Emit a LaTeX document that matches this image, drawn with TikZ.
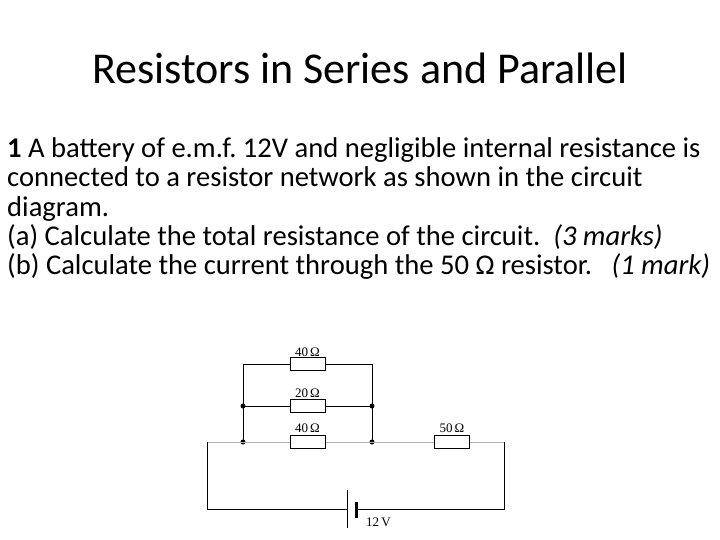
\documentclass[tikz,border=0pt]{standalone}
\usepackage{fontspec}
\setmainfont{Carlito}
\newfontfamily\circfont{Liberation Serif}
\frenchspacing
\begin{document}
\begin{tikzpicture}[x=1pt,y=-1pt,
  wire/.style={line width=0.9pt},
  res/.style={draw,line width=0.9pt,fill=white,minimum width=35pt,minimum height=13pt,inner sep=0pt},
  rlab/.style={font=\circfont\fontsize{13}{13}\selectfont,inner sep=0pt},
  dot/.style={circle,fill=black,inner sep=0pt,minimum size=5pt},
  body/.style={anchor=base west,font=\fontsize{28.6}{28.6}\selectfont,inner sep=0pt}]
\useasboundingbox (0,0) rectangle (720,540);
\node[font=\fontsize{44}{44}\selectfont] (title) at (360,68) {Resistors in Series and Parallel};
\node[body] (l1) at (7,158) {\textbf{1} A battery of e.m.f. 12V and negligible internal resistance is};
\node[body] (l2) at (7,187) {connected to a resistor network as shown in the circuit};
\node[body] (l3) at (7,216) {diagram.};
\node[body] (l4) at (7,245) {(a) Calculate the total resistance of the circuit.\ \ \textit{(3 marks)}};
\node[body] (l5) at (7,274) {(b) Calculate the current through the 50 Ω resistor.\ \ \ \textit{(1 mark)}};
% circuit coordinates
\coordinate (TL) at (243,364); \coordinate (TR) at (372,364);
\node[dot] (ML) at (243,406) {}; \node[dot] (MR) at (372,406) {};
\node[dot] (BL) at (243,442) {}; \node[dot] (BR) at (372,442) {};
\coordinate (WL) at (207,442); \coordinate (WR) at (504,442);
\coordinate (CL) at (207,509); \coordinate (CR) at (504,509);
\coordinate (BatL) at (347,509); \coordinate (BatR) at (356,509);
\draw[wire] (TL) -- (BL.center); \draw[wire] (TR) -- (BR.center);
\draw[wire] (TL) -- (TR); \draw[wire] (ML.center) -- (MR.center);
\draw[wire,black!30] (WL) -- (BL.center); \draw[wire,black!30] (BL.center) -- (BR.center);
\draw[wire,black!30] (BR.center) -- (WR);
\draw[wire] (WL) -- (CL) -- (BatL); \draw[wire] (WR) -- (CR) -- (BatR);
\draw[line width=1pt] (347,490) -- (347,528);
\draw[line width=3pt] (356,502) -- (356,518);
\node[res] (R1) at (307.5,364) {}; \node[rlab] (R1l) at (307.5,352) {40\,Ω};
\node[res] (R2) at (307.5,406) {}; \node[rlab] (R2l) at (307.5,393) {20\,Ω};
\node[res] (R3) at (307.5,442) {}; \node[rlab] (R3l) at (307.5,428) {40\,Ω};
\node[res] (R4) at (452,442) {}; \node[rlab] (R4l) at (452,428) {50\,Ω};
\node[rlab,anchor=west] (V) at (366,522) {12\,V};
\end{tikzpicture}
\end{document}
